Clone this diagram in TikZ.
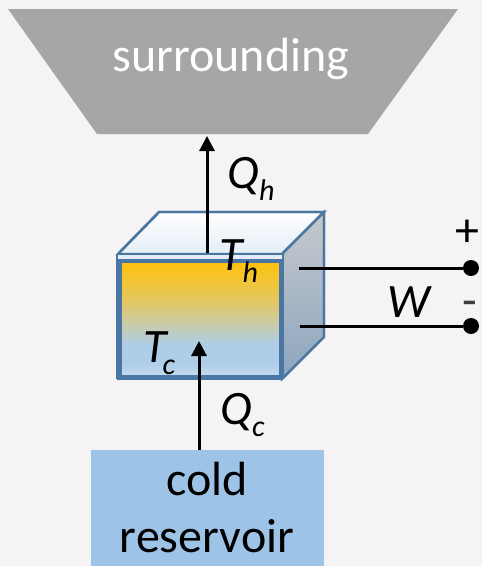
\documentclass[tikz,border=0pt]{standalone}
\usepackage{fontspec}
\setmainfont{Carlito}
\usetikzlibrary{arrows.meta,shapes.geometric}
\definecolor{bgc}{HTML}{F5F3F4}
\definecolor{edgeb}{HTML}{4A76A3}
\definecolor{coldfill}{HTML}{9DC3E6}
\definecolor{surrfill}{HTML}{A6A6A6}
\definecolor{gA}{HTML}{FFC20A}
\definecolor{gB}{HTML}{E4C760}
\definecolor{gC}{HTML}{C6CCB0}
\definecolor{gD}{HTML}{AECDE8}
\definecolor{gE}{HTML}{C8DCF2}
\definecolor{sA}{HTML}{C6C9CD}
\definecolor{sB}{HTML}{8CA5BE}
\definecolor{tA}{HTML}{FFFFFF}
\definecolor{tB}{HTML}{E4EDF6}
\pgfdeclareverticalshading{junction}{100bp}{color(0bp)=(gE); color(25bp)=(gE); color(31bp)=(gD); color(39bp)=(gD); color(47bp)=(gC); color(58bp)=(gB); color(75bp)=(gA); color(100bp)=(gA)}
\pgfdeclareverticalshading{sideface}{100bp}{color(0bp)=(sB); color(25bp)=(sB); color(75bp)=(sA); color(100bp)=(sA)}
\pgfdeclareverticalshading{topface}{100bp}{color(0bp)=(tB); color(25bp)=(tB); color(75bp)=(tA); color(100bp)=(tA)}
\tikzset{
 cubeedge/.style={draw=edgeb,line width=2.4pt,line join=miter},
 lbl/.style={inner sep=0pt,font=\fontsize{48}{48}\selectfont},
 mathlbl/.style={inner sep=0pt,anchor=base west,font=\fontsize{48}{48}\selectfont\itshape},
 flow/.style={draw=black,line width=3pt,-{Triangle[length=15pt,width=15pt]}},
 wire/.style={draw=black,line width=3pt},
 terminal/.style={circle,fill=black,minimum size=16pt,inner sep=0pt},
}
\newcommand{\subsc}[1]{\raisebox{-12pt}{\fontsize{30}{30}\selectfont #1}}
\begin{document}
\begin{tikzpicture}[x=1pt,y=-1pt]
\useasboundingbox[fill=bgc] (0,0) rectangle (482,566);
% surrounding
\fill[fill=surrfill] (8,9) -- (458,9) -- (368,134) -- (97,134) -- cycle;
\node[lbl,text=white] (surr) at (231,59) {surrounding};
\coordinate (surrbase) at (207,136);
% cold reservoir
\node[inner sep=0pt,minimum width=233pt,minimum height=116pt,fill=coldfill] (cold) at (207.5,508) {};
\node[lbl,align=center,font=\fontsize{48}{57}\selectfont] (coldtxt) at (207,508) {cold\\reservoir};
% cube
\path[cubeedge,shading=topface] (118,254) -- (159,212) -- (324,212) -- (282,254) -- cycle;
\path[cubeedge,shading=sideface] (282,254) -- (324,212) -- (324,337) -- (282,379) -- cycle;
\draw[cubeedge] (118,254) -- (159,212) -- (324,212) -- (282,254) (324,212) -- (324,337) -- (282,379);
\fill[fill=tB] (118,254) rectangle (282,260);
\node[draw=edgeb,line width=3.4pt,shading=junction,minimum width=161pt,minimum height=116pt,inner sep=0pt] (front) at (200.5,319) {};
\draw[edgeb,line width=2.2pt] (117,254) -- (283,254) (117,254) -- (117,379) (283,254) -- (283,379);
\draw[edgeb,line width=2.2pt] (117,379) -- (283,379);
% wires
\node[terminal] (plus) at (471,268) {};
\node[terminal] (minus) at (471,326) {};
\coordinate (wa) at (299,268);
\coordinate (wb) at (300,326);
\draw[wire] (wa) -- (plus);
\draw[wire] (wb) -- (minus);
% arrows
\coordinate (qhs) at (207,253);
\coordinate (qcs) at (199,450);
\coordinate (qce) at (199,341);
\draw[flow] (qhs) -- (surrbase);
\draw[flow] (qcs) -- (qce);
% labels
\node[mathlbl] (Th) at (219,270) {T\subsc{h}};
\node[mathlbl] (Tc) at (143,362) {T\kern-4pt\subsc{c}};
\node[mathlbl] (Qh) at (227,188) {Q\subsc{h}};
\node[mathlbl] (Qc) at (220,424) {Q\subsc{c}};
\node[mathlbl] (W) at (387,317) {W};
\node[font=\fontsize{48}{48}\selectfont,inner sep=0pt] (pl) at (467,233) {+};
\node[font=\fontsize{48}{48}\selectfont,inner sep=0pt,text=black!75] (mi) at (470,309) {-};
\end{tikzpicture}
\end{document}
